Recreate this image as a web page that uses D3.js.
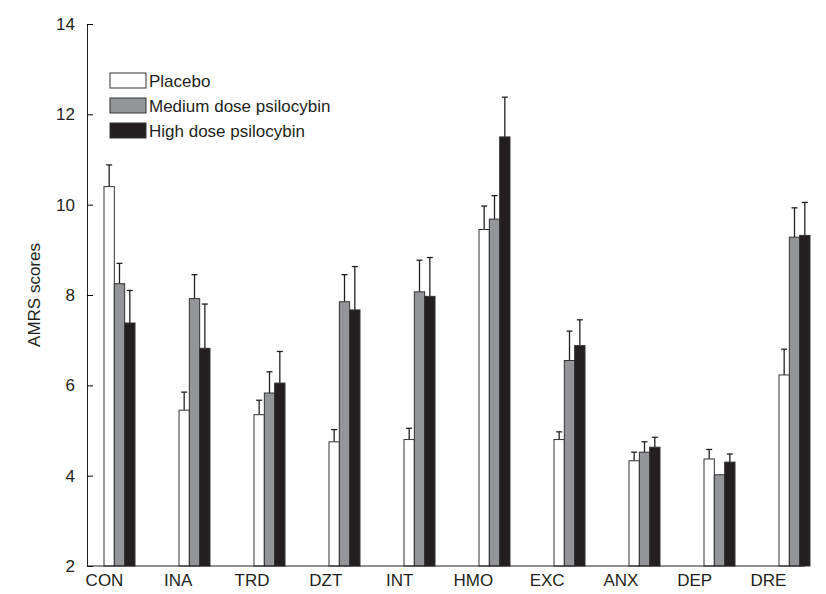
<!DOCTYPE html>
<html><head><meta charset="utf-8">
<script src="https://cdn.jsdelivr.net/npm/d3@7"></script>
<style>body{margin:0;background:#fff}text{font-family:"Liberation Sans",Arial,sans-serif}</style>
</head><body><svg id="c" width="826" height="594"></svg>
<script>
const categories = ["CON","INA","TRD","DZT","INT","HMO","EXC","ANX","DEP","DRE"];
const seriesNames = ["Placebo","Medium dose psilocybin","High dose psilocybin"];
const fills = ["#ffffff","#939598","#231f20"];
const placebo = [10.4,5.45,5.35,4.75,4.8,9.45,4.8,4.33,4.37,6.23];
const placeboErr = [10.88,5.85,5.67,5.02,5.05,9.97,4.97,4.52,4.58,6.8];
const medium = [8.25,7.92,5.83,7.85,8.07,9.68,6.55,4.52,4.02,9.28];
const mediumErr = [8.7,8.45,6.3,8.45,8.77,10.2,7.2,4.75,4.02,9.93];
const high = [7.38,6.82,6.05,7.67,7.97,11.5,6.88,4.63,4.3,9.32];
const highErr = [8.1,7.8,6.75,8.63,8.83,12.38,7.45,4.85,4.48,10.05];
const yTicks = [2,4,6,8,10,12,14];

const svg = d3.select("#c");
const y = d3.scaleLinear().domain([2,14]).range([566,24]);
const x = d3.scaleBand().domain(categories).range([104,854]).paddingInner(0).paddingOuter(0);
const sub = d3.scaleBand().domain([0,1,2]).range([0,31]);
const series = [[placebo,placeboErr],[medium,mediumErr],[high,highErr]];

const g = svg.append("g");
series.forEach(([vals, errs], s) => {
  categories.forEach((c, i) => {
    const x0 = x(c) + sub(s);
    if (errs[i] > vals[i]) {
      g.append("line").attr("x1", x0+sub.bandwidth()/2).attr("x2", x0+sub.bandwidth()/2)
        .attr("y1", y(vals[i])).attr("y2", y(errs[i])).attr("stroke","#231f20").attr("stroke-width",1.3);
      g.append("line").attr("x1", x0+sub.bandwidth()/2-3).attr("x2", x0+sub.bandwidth()/2+3)
        .attr("y1", y(errs[i])).attr("y2", y(errs[i])).attr("stroke","#231f20").attr("stroke-width",1.3);
    }
    g.append("rect").attr("x", x0).attr("y", y(vals[i])).attr("width", sub.bandwidth())
      .attr("height", y(2)-y(vals[i])).attr("fill", fills[s]).attr("stroke","#333").attr("stroke-width",1);
  });
});

// axes
const ya = svg.append("g").attr("transform","translate(87,0)")
  .call(d3.axisLeft(y).tickValues(yTicks).tickSize(-6).tickPadding(12));
ya.select(".domain").attr("stroke","#231f20");
ya.selectAll("text").attr("font-size",17).attr("fill","#231f20");
const xa = svg.append("g").attr("transform","translate(0,566)")
  .call(d3.axisBottom(d3.scalePoint().domain(categories).range([104,768])).tickSize(0).tickPadding(8));
xa.select(".domain").attr("d","M87,0H805").attr("stroke","#231f20");
xa.selectAll("text").attr("font-size",17).attr("fill","#231f20");

svg.append("text").attr("transform","translate(40,295) rotate(-90)").attr("text-anchor","middle")
  .attr("font-size",17).attr("fill","#231f20").text("AMRS scores");

// legend
seriesNames.forEach((n, i) => {
  const ly = 73 + i*25;
  svg.append("rect").attr("x",110).attr("y",ly).attr("width",36).attr("height",15)
    .attr("fill",fills[i]).attr("stroke","#333");
  svg.append("text").attr("x",149).attr("y",ly+14).attr("font-size",17).attr("fill","#231f20").text(n);
});
</script></body></html>
